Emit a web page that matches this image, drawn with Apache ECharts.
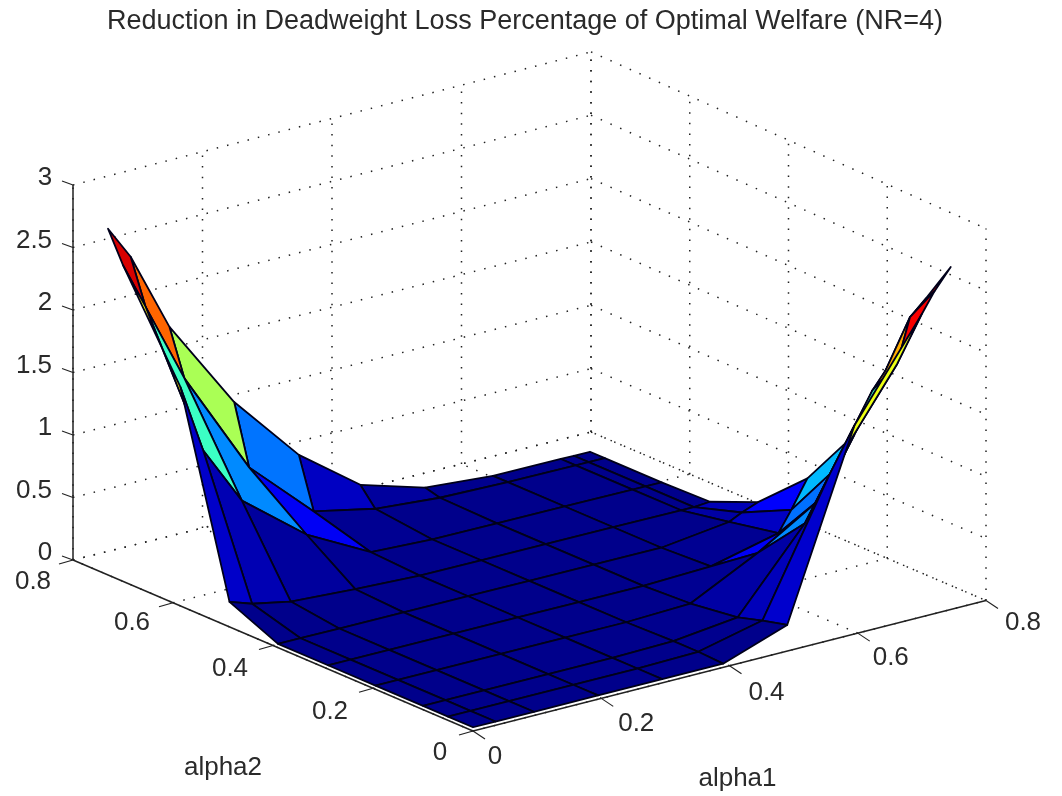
<!DOCTYPE html>
<html><head><meta charset="utf-8">
<style>html,body{margin:0;padding:0;background:#fff}#c{width:1062px;height:796px}</style>
<script src="https://cdn.jsdelivr.net/npm/echarts@6/dist/echarts.min.js"></script>
</head><body><div id="c"></div>
<script>
const titleText = 'Reduction in Deadweight Loss Percentage of Optimal Welfare (NR=4)';
const alpha1 = [0, .035, .095, .195, .295, .39, .49, .595, .7, .72, .745];
const alpha2 = [0, .05, .1, .195, .29, .39, .487, .585, .7, .73];
const alphaTicks = [0, .2, .4, .6, .8];
const zTicks = [0, .5, 1, 1.5, 2, 2.5, 3];
const zRow0 = [.03, .03, .03, .03, .03, .03, .21, 1.68, 2.44, 2.6, 2.76];
const zRow1 = [.03, .03, .03, .03, .03, .04, .16, 1.2, 1.95, 2.3, 2.42];
const zRow2 = [.03, .03, .03, .03, .03, .04, .1, .72, 1.65, 1.78, 1.98];
const zRow3 = [.03, .03, .03, .03, .03, .03, .05, .32, .65, .85, 1.07];
const zRow4 = [.03, .03, .03, .03, .03, .03, .03, .05, .18, .34, .56];
const zRow5 = [.03, .03, .03, .03, .03, .03, .03, .03, .1, .15, .2];
const zRow6 = [.2, .14, .08, .05, .03, .03, .03, .03, .03, .03, .04];
const zRow7 = [1.75, 1.2, .72, .32, .05, .03, .03, .03, .03, .03, .03];
const zRow8 = [2.53, 2.15, 1.5, .66, .18, .08, .04, .03, .03, .03, .03];
const zRow9 = [2.77, 2.5, 1.86, 1.13, .58, .22, .07, .03, .03, .03, .03];
const zRows = [zRow0, zRow1, zRow2, zRow3, zRow4, zRow5, zRow6, zRow7, zRow8, zRow9];

// view of the 3D box: screen position of the floor corners and pixels per z unit at each corner
const view = {O:[473,731,125], R:[986,600.5,124], L:[73,560,125], B:[591,432,126.7], extent:.8};
function project(a1, a2, z){
  const u=a1/view.extent, v=a2/view.extent;
  const f=k=>view.O[k]*(1-u)*(1-v)+view.R[k]*u*(1-v)+view.L[k]*(1-u)*v+view.B[k]*u*v;
  return [f(0), f(1)-z*f(2)];
}
// MATLAB jet colour map, scaled on the highest value
const zMax = Math.max(...zRows.flat());
function jet(t){
  t=Math.min(1,Math.max(0,t));
  const c=x=>Math.round(255*Math.min(1,Math.max(0,x)));
  const r=1.5-Math.abs(4*t-3), g=1.5-Math.abs(4*t-2), b=1.5-Math.abs(4*t-1);
  return `rgb(${c(r)},${c(g)},${c(b)})`;
}
const cells=[];
for(let i=alpha2.length-2;i>=0;i--) for(let j=alpha1.length-2;j>=0;j--) cells.push([j,i]);

// [a1a,a2a,za,a1b,a2b,zb]
const M=view.extent, ZT=zTicks[zTicks.length-1];
const dotted=[], solid=[];
alphaTicks.forEach(t=>{
  dotted.push([t,0,0,t,M,0]);      // floor
  dotted.push([0,t,0,M,t,0]);
  dotted.push([t,M,0,t,M,ZT]);     // walls
  dotted.push([M,t,0,M,t,ZT]);
});
zTicks.forEach(t=>{
  dotted.push([0,M,t,M,M,t]);
  dotted.push([M,M,t,M,0,t]);
});
solid.push([0,0,0,M,0,0],[0,0,0,0,M,0],[0,M,0,0,M,ZT]);

const FONT='"Liberation Sans",Arial,sans-serif';
const labels=[];
const a1Off=[[22,26],[35,25],[37,27],[33,25],[37,22]];
const a2Off=[[-33,22],[-43,24],[-43,23],[-41,20],[-40,22]];
alphaTicks.forEach((t,k)=>{
  labels.push({a:[t,0,0], txt:String(t), off:a1Off[k]});
  labels.push({a:[0,t,0], txt:String(t), off:a2Off[k]});
});
zTicks.forEach(t=>labels.push({a:[0,M,t], txt:String(t), off:[String(t).length>1?-39:-28,-7]}));
labels.push({a:[0,.4,0], txt:'alpha2', off:[-50,122]});
labels.push({a:[.4,0,0], txt:'alpha1', off:[8,113]});

const ticks=[];
alphaTicks.forEach(t=>{ ticks.push({a:[t,0,0],d:[12,8]}); ticks.push({a:[0,t,0],d:[-14,4]}); });
zTicks.forEach(t=>ticks.push({a:[0,M,t],d:[-11,-4]}));

function lineRender(style){
  return (p,api)=>{
    const A=project(api.value(0),api.value(1),api.value(2)), B=project(api.value(3),api.value(4),api.value(5));
    const a=api.coord(A), b=api.coord(B);
    return {type:'line',silent:true,shape:{x1:a[0],y1:a[1],x2:b[0],y2:b[1]},style};
  };
}
const xAxis={type:'value',min:0,max:1062,show:false};
const yAxis={type:'value',min:0,max:796,inverse:true,show:false};
const chart=echarts.init(document.getElementById('c'),null,{renderer:'canvas'});
chart.setOption({
  animation:false,backgroundColor:'#fff',
  title:{text:titleText,left:525,top:8,padding:0,textAlign:'center',
    textStyle:{fontFamily:FONT,fontSize:27,fontWeight:'normal',color:'#2a2a2a'}},
  grid:{left:0,right:0,top:0,bottom:0},xAxis,yAxis,
  series:[
    {type:'custom',coordinateSystem:'cartesian2d',clip:false,silent:true,data:dotted,z:1,
     renderItem:lineRender({stroke:'#222',lineWidth:1.5,lineDash:[1.5,9.1]})},
    {type:'custom',coordinateSystem:'cartesian2d',clip:false,silent:true,data:solid,z:2,
     renderItem:lineRender({stroke:'#222',lineWidth:1.5})},
    {type:'custom',coordinateSystem:'cartesian2d',clip:false,silent:true,data:ticks.map((t,k)=>[k]),z:2,
     renderItem:(p,api)=>{
       const t=ticks[api.value(0)], a=api.coord(project(...t.a));
       return {type:'line',silent:true,shape:{x1:a[0],y1:a[1],x2:a[0]+t.d[0],y2:a[1]+t.d[1]},style:{stroke:'#222',lineWidth:1.2}};
     }},
    {type:'custom',coordinateSystem:'cartesian2d',clip:false,silent:true,data:cells,z:3,
     renderItem:(p,api)=>{
       const j=api.value(0), i=api.value(1);
       const corners=[[j,i],[j+1,i],[j+1,i+1],[j,i+1]];
       const pts=corners.map(([c,r])=>api.coord(project(alpha1[c],alpha2[r],zRows[r][c])));
       return {type:'polygon',silent:true,shape:{points:pts},
         style:{fill:jet(zRows[i][j]/zMax),stroke:'#00001a',lineWidth:1.8,lineJoin:'round'}};
     }},
    {type:'custom',coordinateSystem:'cartesian2d',clip:false,silent:true,data:labels.map((l,k)=>[k]),z:4,
     renderItem:(p,api)=>{
       const l=labels[api.value(0)], a=api.coord(project(...l.a));
       return {type:'text',silent:true,style:{text:l.txt,x:a[0]+l.off[0],y:a[1]+l.off[1],
         fill:'#2a2a2a',fontFamily:FONT,fontSize:26,align:'center',verticalAlign:'middle',
         textAlign:'center',textVerticalAlign:'middle'}};
     }}
  ]
});
</script></body></html>
